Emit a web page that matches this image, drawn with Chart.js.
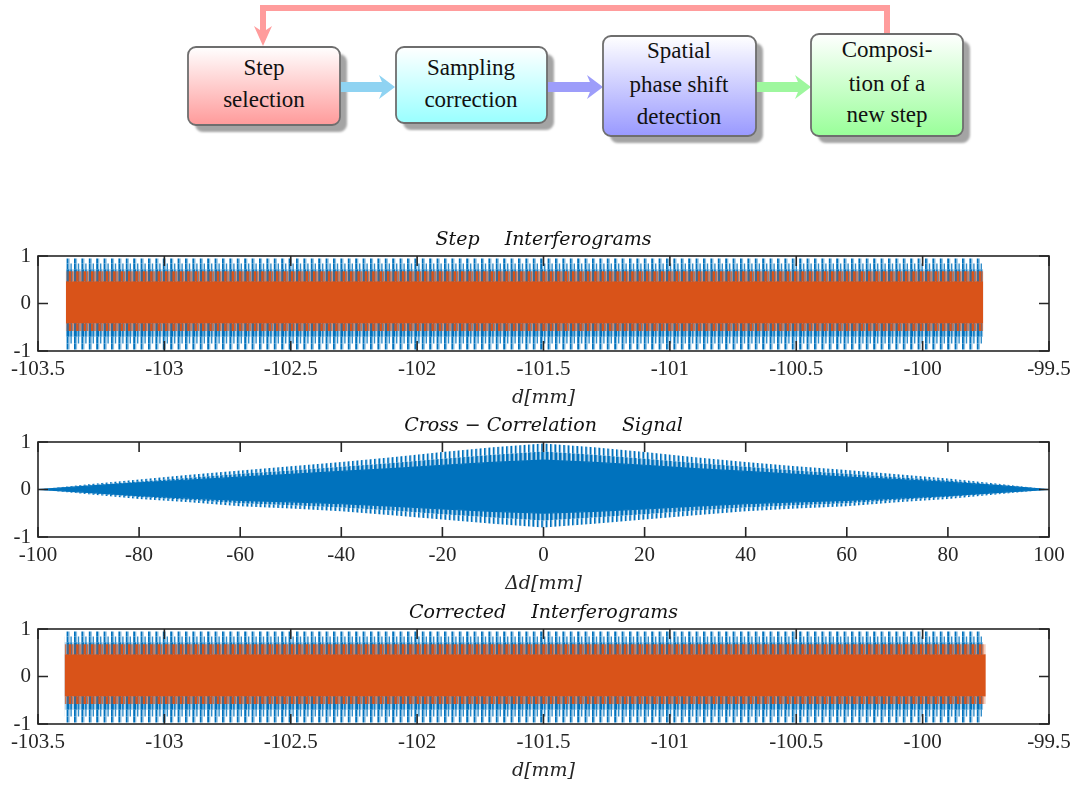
<!DOCTYPE html>
<html>
<head>
<meta charset="utf-8">
<script src="https://cdn.jsdelivr.net/npm/chart.js@4.4.1/dist/chart.umd.min.js"></script>
<style>
  html, body { margin: 0; padding: 0; background: #fff; }
  body { width: 1084px; height: 785px; position: relative; overflow: hidden; font-family: "Liberation Serif", serif; }
  .plot { position: absolute; left: 0; width: 1084px; }
  #flow { position: absolute; left: 0; top: 0; }
  #flow text { font-family: "Liberation Serif", serif; font-size: 23px; fill: #111; text-anchor: middle; dominant-baseline: middle; }
</style>
</head>
<body>

<!-- processing loop -->
<svg id="flow" width="1084" height="200" viewBox="0 0 1084 200">
  <defs>
    <linearGradient id="gRed" x1="0" y1="0" x2="0" y2="1"><stop offset="0" stop-color="#ffffff"/><stop offset="1" stop-color="#ff9a9a"/></linearGradient>
    <linearGradient id="gCyan" x1="0" y1="0" x2="0" y2="1"><stop offset="0" stop-color="#ffffff"/><stop offset="1" stop-color="#99ffff"/></linearGradient>
    <linearGradient id="gBlue" x1="0" y1="0" x2="0" y2="1"><stop offset="0" stop-color="#ffffff"/><stop offset="1" stop-color="#9999ff"/></linearGradient>
    <linearGradient id="gGreen" x1="0" y1="0" x2="0" y2="1"><stop offset="0" stop-color="#ffffff"/><stop offset="1" stop-color="#99ff99"/></linearGradient>
    <filter id="soft" x="-10%" y="-10%" width="130%" height="130%"><feGaussianBlur stdDeviation="1.2"/></filter>
  </defs>

  <!-- feedback path -->
  <polyline points="887,34 887,8 263,8 263,34" fill="none" stroke="#ff9c9c" stroke-width="6"/>
  <polygon points="263,46 254,26 263,32 272,26" fill="#ff9c9c"/>

  <!-- shadows -->
  <g fill="#a4a4a4" filter="url(#soft)">
    <rect x="195" y="54" width="152" height="78" rx="8"/>
    <rect x="403" y="54" width="151" height="76" rx="8"/>
    <rect x="610" y="43" width="153" height="100" rx="8"/>
    <rect x="818" y="41" width="152" height="102" rx="8"/>
  </g>

  <!-- arrows -->
  <rect x="340" y="82" width="44" height="10" fill="#8fd3f2"/>
  <polygon points="395,87 379,75 384,87 379,99" fill="#8fd3f2"/>
  <rect x="547" y="82" width="45" height="10" fill="#9d9dfa"/>
  <polygon points="603,87 587,75 592,87 587,99" fill="#9d9dfa"/>
  <rect x="756" y="82" width="44" height="10" fill="#9ef79e"/>
  <polygon points="811,87 795,75 800,87 795,99" fill="#9ef79e"/>

  <!-- boxes -->
  <g stroke="#6e6e6e" stroke-width="1.8">
    <rect x="188" y="47" width="152" height="78" rx="8" fill="url(#gRed)"/>
    <rect x="396" y="47" width="151" height="76" rx="8" fill="url(#gCyan)"/>
    <rect x="603" y="36" width="153" height="100" rx="8" fill="url(#gBlue)"/>
    <rect x="811" y="34" width="152" height="102" rx="8" fill="url(#gGreen)"/>
  </g>

  <text x="264" y="70">Step</text>
  <text x="264" y="102">selection</text>
  <text x="471" y="70">Sampling</text>
  <text x="471" y="102">correction</text>
  <text x="679" y="53">Spatial</text>
  <text x="679" y="87">phase shift</text>
  <text x="679" y="119">detection</text>
  <text x="887" y="52">Composi-</text>
  <text x="887" y="86">tion of a</text>
  <text x="887" y="117">new step</text>
</svg>

<div class="plot" style="top:226px;height:183px"><canvas id="cStep"></canvas></div>
<div class="plot" style="top:412px;height:183px"><canvas id="cCorr"></canvas></div>
<div class="plot" style="top:599px;height:183px"><canvas id="cCorrected"></canvas></div>

<script>
// ---- step interferograms (d in mm): record extent and envelope levels ----
const stepD          = [-103.39, -99.76];
const stepBlueTop    = [0.95, 0.95];
const stepBlueMidTop = [0.84, 0.84];
const stepBlueUpper  = [0.72, 0.72];
const stepBlueLower  = [-0.70, -0.70];
const stepBlueMidBot = [-0.84, -0.84];
const stepBlueBot    = [-0.97, -0.97];
const stepOrTop      = [0.68, 0.68];
const stepOrUpper    = [0.47, 0.47];
const stepOrLower    = [-0.42, -0.42];
const stepOrBot      = [-0.58, -0.58];

// ---- corrected interferograms ----
const corrBlueD      = [-103.395, -99.76];
const corrOrD        = [-103.395, -99.75];
const corrBlueTop    = [0.95, 0.95];
const corrBlueMidTop = [0.84, 0.84];
const corrBlueUpper  = [0.72, 0.72];
const corrBlueLower  = [-0.70, -0.70];
const corrBlueMidBot = [-0.84, -0.84];
const corrBlueBot    = [-0.97, -0.97];
const corrOrTop      = [0.68, 0.68];
const corrOrUpper    = [0.47, 0.47];
const corrOrLower    = [-0.42, -0.42];
const corrOrBot      = [-0.58, -0.58];

// ---- cross-correlation signal envelope vs lag (mm) ----
const ccLag     = [-100, -90, -80, -70, -60, -50, -40, -30, -20, -10, 0, 10, 20, 30, 40, 50, 60, 70, 80, 90, 100];
const ccPeakTop = [0, 0.11, 0.21, 0.31, 0.40, 0.49, 0.58, 0.68, 0.79, 0.89, 0.97, 0.89, 0.79, 0.68, 0.58, 0.49, 0.41, 0.32, 0.23, 0.12, 0];
const ccMidTop  = [0, 0.09, 0.17, 0.25, 0.33, 0.40, 0.48, 0.56, 0.65, 0.73, 0.80, 0.73, 0.65, 0.56, 0.48, 0.40, 0.33, 0.26, 0.19, 0.10, 0];
const ccCoreTop = [0, 0.07, 0.14, 0.20, 0.26, 0.32, 0.38, 0.44, 0.51, 0.57, 0.62, 0.57, 0.51, 0.44, 0.38, 0.32, 0.26, 0.21, 0.15, 0.08, 0];
const ccCoreBot = [0, -0.06, -0.13, -0.18, -0.23, -0.26, -0.30, -0.35, -0.41, -0.46, -0.50, -0.46, -0.41, -0.35, -0.30, -0.26, -0.23, -0.18, -0.13, -0.06, 0];
const ccMidBot  = [0, -0.08, -0.16, -0.22, -0.29, -0.33, -0.38, -0.44, -0.52, -0.59, -0.65, -0.59, -0.52, -0.44, -0.38, -0.33, -0.29, -0.22, -0.16, -0.08, 0];
const ccPeakBot = [0, -0.10, -0.20, -0.27, -0.35, -0.40, -0.46, -0.54, -0.63, -0.72, -0.80, -0.72, -0.63, -0.54, -0.46, -0.40, -0.35, -0.27, -0.20, -0.10, 0];

// ---- axis ticks ----
const stepTicks = { min: -103.5, max: -99.5, step: 0.5 };
const lagTicks  = { min: -100, max: 100, step: 20 };
const ampTicks  = { min: -1, max: 1, step: 1 };

const BLUE = '#0072BD';
const ORANGE = '#D95319';
const AXIS = '#262626';
const FONT = '"Liberation Serif", serif';
const MATH = '"DejaVu Serif", serif';

// vertical-stripe fill used to render the dense carrier fringes
function fringes(period, count, stripes, bg) {
  const w = Math.round(period * count);
  const c = document.createElement('canvas');
  c.width = w; c.height = 4;
  const g = c.getContext('2d');
  if (bg) { g.fillStyle = bg; g.fillRect(0, 0, w, 4); }
  for (let k = 0; k < count; k++) {
    stripes.forEach(s => {
      g.fillStyle = s.color;
      g.fillRect(k * period + s.at, 0, s.width, 4);
    });
  }
  return g.createPattern(c, 'repeat');
}

const LIGHT_BLUE = 'rgba(0,114,189,0.45)';
const blueTall = fringes(7.4, 5, [
  { at: 0, width: 1.8, color: BLUE },
  { at: 1.8, width: 1.3, color: LIGHT_BLUE }
]);
const blueMid = fringes(7.4, 5, [
  { at: 0, width: 1.8, color: BLUE },
  { at: 1.8, width: 1.3, color: LIGHT_BLUE },
  { at: 3.8, width: 1.4, color: 'rgba(0,114,189,0.8)' }
]);
const blueBand = fringes(7.4, 5, [
  { at: 0, width: 2.8, color: BLUE },
  { at: 3.6, width: 1.8, color: 'rgba(0,114,189,0.85)' }
], 'rgba(0,114,189,0.3)');
const orangeTeeth = fringes(7.4, 5, [
  { at: 2.2, width: 2.4, color: ORANGE },
  { at: 5.5, width: 1.2, color: 'rgba(217,83,25,0.7)' }
], 'rgba(217,83,25,0.3)');
const ccOuter = fringes(4.4, 5, [
  { at: 0, width: 1.6, color: BLUE },
  { at: 1.6, width: 0.8, color: 'rgba(0,114,189,0.45)' }
]);
const ccInner = fringes(4.4, 5, [
  { at: 0, width: 2.6, color: BLUE },
  { at: 2.6, width: 0.8, color: 'rgba(0,114,189,0.5)' }
], 'rgba(0,114,189,0.15)');

function pts(xs, ys) {
  return ys.map((y, i) => ({ x: xs[i], y }));
}

function band(xs, ys, fill, color, order, border) {
  return {
    data: pts(xs, ys),
    fill: fill,
    backgroundColor: color,
    borderColor: border ? BLUE : 'rgba(0,0,0,0)',
    borderWidth: border ? 1.2 : 0,
    pointRadius: 0,
    order: order,
    tension: 0
  };
}

// MATLAB-style box with inward tick marks on all four sides
const boxAxes = {
  id: 'boxAxes',
  afterDatasetsDraw(chart) {
    const { ctx, chartArea: a, scales } = chart;
    const L = 10;
    ctx.save();
    ctx.strokeStyle = AXIS;
    ctx.lineWidth = 1.6;
    ctx.beginPath();
    scales.x.ticks.forEach(t => {
      const p = scales.x.getPixelForValue(t.value);
      ctx.moveTo(p, a.bottom); ctx.lineTo(p, a.bottom - L);
      ctx.moveTo(p, a.top); ctx.lineTo(p, a.top + L);
    });
    scales.y.ticks.forEach(t => {
      const p = scales.y.getPixelForValue(t.value);
      ctx.moveTo(a.left, p); ctx.lineTo(a.left + L, p);
      ctx.moveTo(a.right, p); ctx.lineTo(a.right - L, p);
    });
    ctx.stroke();
    ctx.strokeRect(a.left, a.top, a.right - a.left, a.bottom - a.top);
    ctx.restore();
  }
};

function makeChart(id, datasets, xt, title, xTitle) {
  const tickFont = { family: FONT, size: 21 };
  const titleFont = { family: MATH, size: 19, style: 'italic' };
  return new Chart(document.getElementById(id), {
    type: 'line',
    data: { datasets },
    plugins: [boxAxes],
    options: {
      responsive: true,
      maintainAspectRatio: false,
      animation: false,
      events: [],
      layout: { padding: { left: 0, right: 35, top: 0, bottom: 0 }, autoPadding: false },
      plugins: { legend: { display: false }, tooltip: { enabled: false }, title: { display: false } },
      scales: {
        x: {
          type: 'linear', position: 'bottom',
          min: xt.min, max: xt.max,
          grid: { display: false, drawTicks: false },
          border: { display: false },
          ticks: { stepSize: xt.step, color: AXIS, font: tickFont, padding: 6, maxRotation: 0, autoSkip: false,
                   callback: v => String(v) },
          title: { display: true, text: xTitle, color: AXIS, font: titleFont, padding: { top: 0, bottom: 0 } },
          afterFit: s => { s.height = 58; }
        },
        xTop: {
          type: 'linear', position: 'top',
          min: xt.min, max: xt.max,
          grid: { display: false, drawTicks: false },
          border: { display: false },
          ticks: { display: false },
          title: { display: true, text: title, color: '#111', font: titleFont, padding: { top: 3, bottom: 0 } },
          afterFit: s => { s.height = 30; }
        },
        y: {
          type: 'linear',
          min: ampTicks.min, max: ampTicks.max,
          grid: { display: false, drawTicks: false },
          border: { display: false },
          ticks: { stepSize: ampTicks.step, color: AXIS, font: tickFont, padding: 7, callback: v => String(v) },
          afterFit: s => { s.width = 38; }
        }
      }
    }
  });
}

function interferogramSets(bx, ox, blue, orange) {
  const [bT, bM, bU, bL, bN, bB] = blue;
  const [oT, oU, oL, oB] = orange;
  return [
    band(bx, bT, '+1', blueTall, 2),
    band(bx, bM, '+1', blueMid, 2),
    band(bx, bU, '+1', blueBand, 2),
    band(bx, bL, '+1', blueMid, 2),
    band(bx, bN, '+1', blueTall, 2),
    band(bx, bB, false, 'rgba(0,0,0,0)', 2),
    band(ox, oT, '+1', orangeTeeth, 1),
    band(ox, oU, '+1', ORANGE, 1),
    band(ox, oL, '+1', orangeTeeth, 1),
    band(ox, oB, false, 'rgba(0,0,0,0)', 1)
  ];
}

makeChart('cStep',
  interferogramSets(stepD, stepD,
    [stepBlueTop, stepBlueMidTop, stepBlueUpper, stepBlueLower, stepBlueMidBot, stepBlueBot],
    [stepOrTop, stepOrUpper, stepOrLower, stepOrBot]),
  stepTicks, 'Step\u2003 Interferograms', 'd[mm]');

makeChart('cCorr', [
    band(ccLag, ccPeakTop, '+1', ccOuter, 1),
    band(ccLag, ccMidTop, '+1', ccInner, 1),
    band(ccLag, ccCoreTop, '+1', BLUE, 1, true),
    band(ccLag, ccCoreBot, '+1', ccInner, 1, true),
    band(ccLag, ccMidBot, '+1', ccOuter, 1),
    band(ccLag, ccPeakBot, false, 'rgba(0,0,0,0)', 1)
  ],
  lagTicks, 'Cross − Correlation\u2003 Signal', 'Δd[mm]');

makeChart('cCorrected',
  interferogramSets(corrBlueD, corrOrD,
    [corrBlueTop, corrBlueMidTop, corrBlueUpper, corrBlueLower, corrBlueMidBot, corrBlueBot],
    [corrOrTop, corrOrUpper, corrOrLower, corrOrBot]),
  stepTicks, 'Corrected\u2003 Interferograms', 'd[mm]');
</script>
</body>
</html>
